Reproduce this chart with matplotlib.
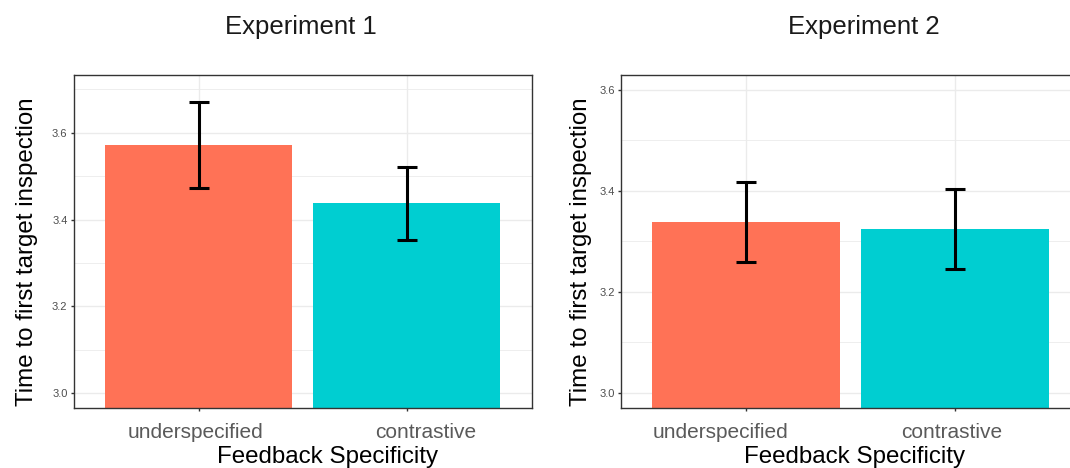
import matplotlib
matplotlib.use("Agg")
import matplotlib.pyplot as plt
from matplotlib.transforms import ScaledTranslation
from matplotlib.ticker import MultipleLocator

# --- data ---
titles = ["Experiment 1", "Experiment 2"]
conditions = ["underspecified", "contrastive"]
exp1_mean = [3.572, 3.438]
exp1_lo = [3.472, 3.354]
exp1_hi = [3.671, 3.522]
exp2_mean = [3.338, 3.324]
exp2_lo = [3.259, 3.245]
exp2_hi = [3.417, 3.404]

plt.rcParams['font.family'] = ['Liberation Sans', 'DejaVu Sans']

W, H, dpi = 1070, 468, 100
fig = plt.figure(figsize=(W / dpi, H / dpi), dpi=dpi, facecolor='white')

bar_colors = ['#FF7256', '#00CED1']
grid_col = '#EBEBEB'
spine_col = '#333333'

# panel boxes in pixels: left, top, right, bottom (right panel runs past the edge)
panels = [
    dict(box=(73.7, 74.7, 531.7, 408.3), ylim=(2.9655, 3.7335),
         mean=exp1_mean, lo=exp1_lo, hi=exp1_hi,
         tick_dx=[-3, 19], title_x=301, ylab_x=33, xlab_x=328),
    dict(box=(621, 74.7, 1080, 408.3), ylim=(2.9697, 3.6297),
         mean=exp2_mean, lo=exp2_lo, hi=exp2_hi,
         tick_dx=[-26, -3], title_x=864, ylab_x=587, xlab_x=855),
]

x = [1, 2]
for p, title in zip(panels, titles):
    l, t, r, b = p['box']
    ax = fig.add_axes([l / W, (H - b) / H, (r - l) / W, (b - t) / H])
    ax.set_xlim(0.4, 2.6)
    ax.set_ylim(*p['ylim'])

    ax.yaxis.set_major_locator(MultipleLocator(0.2))
    ax.yaxis.set_minor_locator(MultipleLocator(0.1))
    ax.grid(True, which='major', color=grid_col, linewidth=1.0, zorder=0)
    ax.grid(True, which='minor', axis='y', color=grid_col, linewidth=0.6, zorder=0)
    ax.set_axisbelow(True)

    ax.bar(x, p['mean'], width=0.9, bottom=0, color=bar_colors, zorder=2)
    yerr = [[m - lo for m, lo in zip(p['mean'], p['lo'])],
            [hi - m for m, hi in zip(p['mean'], p['hi'])]]
    ax.errorbar(x, p['mean'], yerr=yerr, fmt='none', ecolor='black',
                elinewidth=2.2, capsize=7.2, capthick=2.2, zorder=3)

    for s in ax.spines.values():
        s.set_color(spine_col)
        s.set_linewidth(1.0)

    ax.set_xticks(x)
    ax.set_xticklabels(conditions, fontsize=15, color='#5a5a5a')
    ax.tick_params(axis='x', which='major', length=2.5, width=1, color=spine_col, pad=8)
    ax.tick_params(axis='y', which='major', length=2.5, width=1, color=spine_col,
                   labelsize=8, labelcolor='#4D4D4D', pad=2)
    ax.tick_params(axis='y', which='minor', length=0)
    ax.yaxis.set_major_formatter(plt.FormatStrFormatter('%.1f'))

    for lab, dx in zip(ax.get_xticklabels(), p['tick_dx']):
        lab.set_transform(lab.get_transform() + ScaledTranslation(dx / dpi, 0, fig.dpi_scale_trans))

    fig.text(p['title_x'] / W, (H - 34) / H, title, fontsize=18.5, ha='center',
             va='baseline', color='#1a1a1a')
    fig.text(p['ylab_x'] / W, (H - 252) / H, 'Time to first target inspection',
             fontsize=17.4, rotation=90, rotation_mode='anchor', ha='center',
             va='baseline', color='black')
    fig.text(p['xlab_x'] / W, 4.5 / H, 'Feedback Specificity', fontsize=17.4,
             ha='center', va='baseline', color='black')

fig.savefig('out.png', dpi=dpi)
